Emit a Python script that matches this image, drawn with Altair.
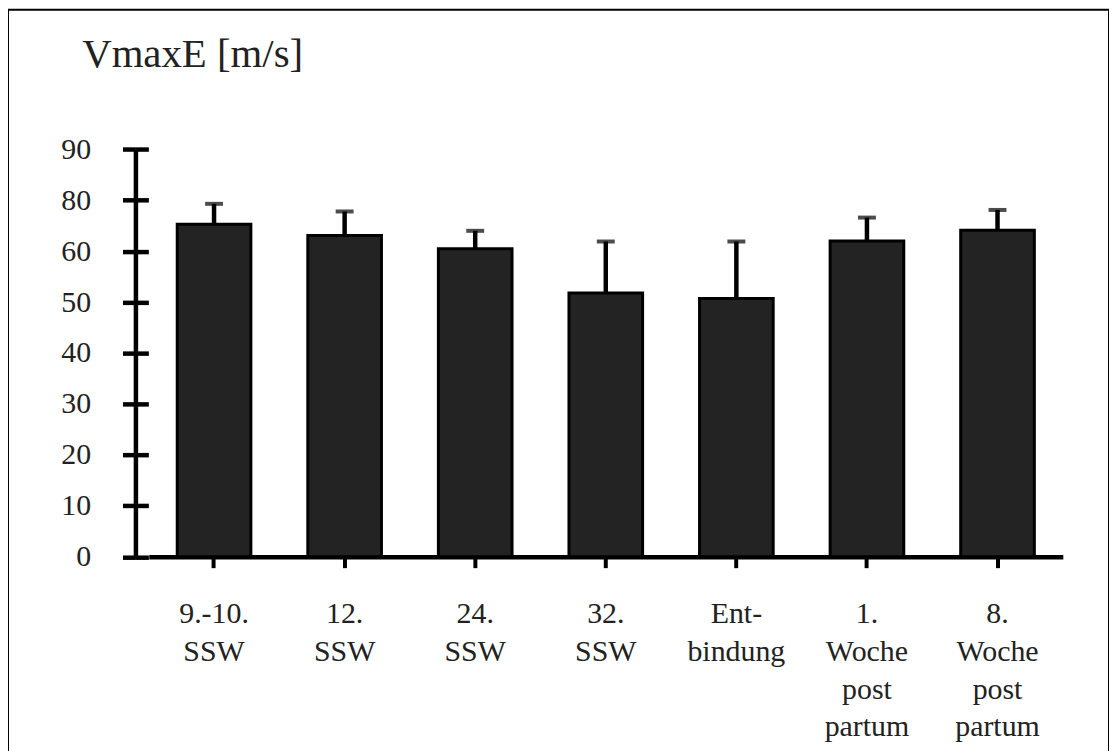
import altair as alt
import pandas as pd

# ---- data ----
categories = ["9.-10.\nSSW", "12.\nSSW", "24.\nSSW", "32.\nSSW", "Ent-\nbindung",
              "1.\nWoche\npost\npartum", "8.\nWoche\npost\npartum"]
means = [65.3, 63.1, 60.5, 51.8, 50.7, 62.0, 64.1]
sds = [4.0, 4.7, 3.5, 10.1, 11.2, 4.6, 4.0]
y_tick_values = [0, 10, 20, 30, 40, 50, 60, 70, 80]
y_tick_labels = ["0", "10", "20", "30", "40", "50", "60", "80", "90"]
title_text = "VmaxE [m/s]"

df = pd.DataFrame({"cat": categories, "mean": means, "sd": sds})
df["upper"] = df["mean"] + df["sd"]

FONT = "Liberation Serif"
W, H = 1106, 746
AXIS_Y = 549.5

label_expr = "[" + ",".join("'%s'" % s for s in y_tick_labels) + "][indexof([" + \
    ",".join(str(v) for v in y_tick_values) + "], datum.value)]"

x_enc = alt.X(
    "cat:N", sort=categories,
    scale=alt.Scale(range=[141.4, 1059.6], paddingInner=0.436, paddingOuter=0.218),
    axis=alt.Axis(
        title=None, orient="bottom", offset=-(H - AXIS_Y),
        labelExpr="split(datum.label, '\\n')", labelAngle=0,
        labelFont=FONT, labelFontSize=30, labelLineHeight=38, labelColor="#222222",
        labelPadding=31, labelBaseline="top",
        domainColor="black", domainWidth=4.5,
        tickColor="black", tickWidth=4, tickSize=11, grid=False,
    ),
)

y_scale = alt.Scale(domain=[0, 80], range=[AXIS_Y, 140.3], nice=False, zero=True)

axis_main = alt.Axis(
    orient="left", offset=-128, values=y_tick_values, labelExpr=label_expr,
    labelFont=FONT, labelFontSize=30, labelColor="#222222", labelPadding=32,
    domainColor="black", domainWidth=4.5, tickColor="black", tickWidth=4.5, tickSize=13,
    grid=False,
    title=title_text, titleFont=FONT, titleFontSize=41, titleFontWeight="normal",
    titleColor="#222222", titleAngle=0, titleAlign="left", titleBaseline="alphabetic",
    titleX=-54, titleY=57,
)

axis_second = alt.Axis(
    orient="left", offset=-141, values=y_tick_values, labels=False, domain=False,
    tickColor="black", tickWidth=4.5, tickSize=13, grid=False, title=None,
)

bars = alt.Chart(df).mark_bar(fill="#232323", stroke="black", strokeWidth=3).encode(
    x=x_enc,
    y=alt.Y("mean:Q", scale=y_scale, axis=axis_main),
)

rules = alt.Chart(df).mark_rule(color="black", strokeWidth=4.5).encode(
    x=alt.X("cat:N", sort=categories),
    y=alt.Y("mean:Q", scale=y_scale, axis=axis_second),
    y2="upper:Q",
)

caps = alt.Chart(df).mark_tick(color="black", thickness=4, size=18, orient="horizontal").encode(
    x=alt.X("cat:N", sort=categories),
    y=alt.Y("upper:Q", scale=y_scale, axis=None),
)

chart = alt.layer(bars, rules, caps).resolve_axis(y="independent").resolve_scale(y="shared").properties(
    width=W, height=H, padding={"left": 0, "top": 0, "right": 0, "bottom": 0},
    background="white",
).configure_view(stroke="black", strokeWidth=2)

chart.save("out.html", embed_options={"renderer": "svg", "actions": False})
